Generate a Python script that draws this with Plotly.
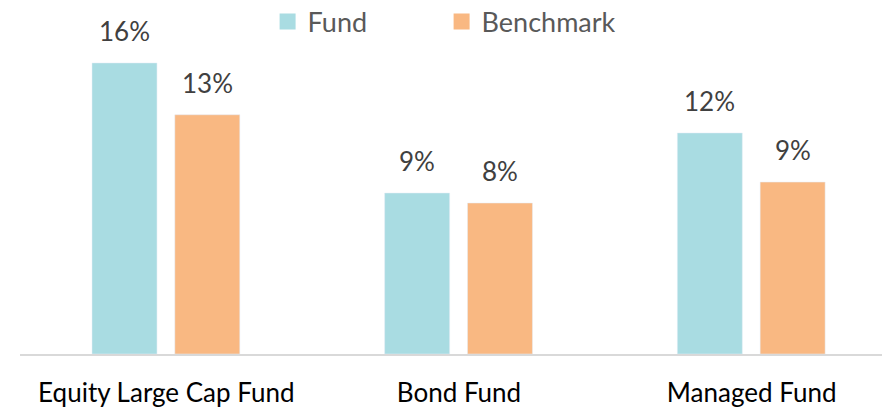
import plotly.graph_objects as go

# data
categories = ["Equity Large Cap Fund", "Bond Fund", "Managed Fund"]
fund = [16.0, 8.85, 12.15]
benchmark = [13.15, 8.3, 9.45]
series_names = ["Fund", "Benchmark"]

fund_color = "#A9DCE2"
bench_color = "#F9B882"
font_family = "Lato, 'Open Sans', sans-serif"

bar_w = 0.222
offsets = [-0.254, 0.029]  # left edge of each bar relative to category centre

fig = go.Figure()
for name, vals, col, off in zip(series_names, [fund, benchmark], [fund_color, bench_color], offsets):
    fig.add_trace(go.Bar(
        x=categories, y=vals, name=name, marker_color=col,
        width=bar_w, offset=off, showlegend=False,
    ))
    # legend entry with a bigger square swatch
    fig.add_trace(go.Scatter(
        x=[None], y=[None], mode="markers", name=name,
        marker=dict(symbol="square", size=18, color=col),
    ))
    # value labels above bars
    for c, v in zip(categories, vals):
        fig.add_annotation(
            x=c, y=v, text=f"{v:.0f}%", showarrow=False,
            xref="x", yref="y", yanchor="bottom",
            xshift=(off + bar_w / 2) * 293, yshift=14,
            font=dict(family=font_family, size=26, color="#404040"),
        )

fig.update_layout(
    width=890, height=407,
    margin=dict(l=12, r=0, t=0, b=61, autoexpand=False),
    paper_bgcolor="white", plot_bgcolor="white",
    barmode="overlay",
    font=dict(family=font_family),
    showlegend=True,
    legend=dict(
        orientation="h", x=0.282, xanchor="left", y=0.96, yanchor="middle",
        entrywidth=129, entrywidthmode="pixels",
        font=dict(family=font_family, size=27, color="#595959"),
        bgcolor="rgba(0,0,0,0)",
    ),
    xaxis=dict(
        range=[-0.5, 2.5], showgrid=False, ticks="",
        showline=True, linecolor="#D9D9D9", linewidth=2,
        tickfont=dict(family=font_family, size=26, color="#000000"),
        ticklabelstandoff=15, automargin=False,
    ),
    yaxis=dict(
        range=[0, 19.02], showgrid=False, zeroline=False,
        showticklabels=False, showline=False, automargin=False,
    ),
)

fig.write_html("out.html")
